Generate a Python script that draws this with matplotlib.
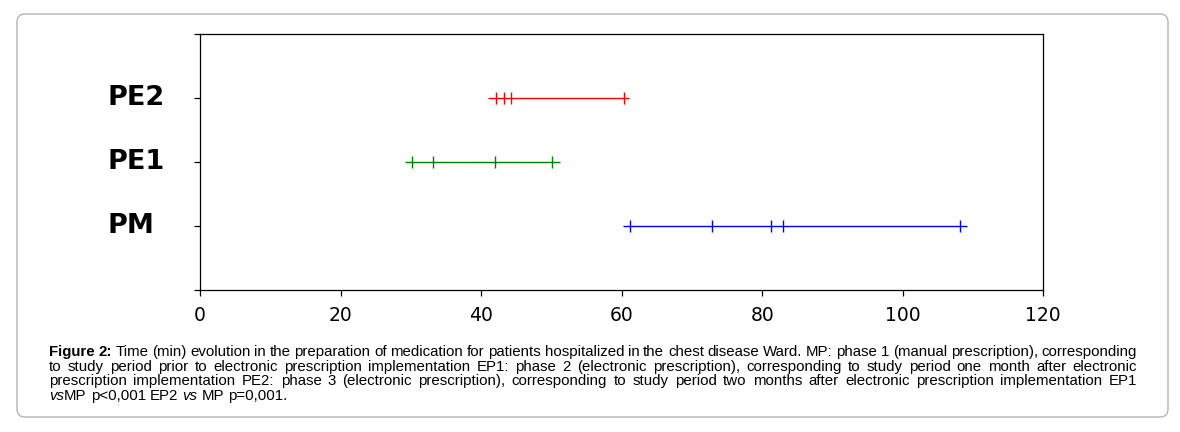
import matplotlib
matplotlib.use('Agg')
import matplotlib.pyplot as plt
from matplotlib.patches import FancyBboxPatch

# reading values off the figure (minutes)
groups = ['PM', 'PE1', 'PE2']
group_pos = [1, 2, 3]
pm_ends = [60.2, 109.1]
pm_marks = [61.2, 72.9, 81.2, 83.0, 108.2]
pe1_ends = [29.2, 51.2]
pe1_marks = [30.1, 33.2, 42.0, 50.1]
pe2_ends = [41.0, 61.1]
pe2_marks = [42.1, 43.2, 44.2, 60.3]
x_ticks = [0, 20, 40, 60, 80, 100, 120]

colors = ['#0000ff', '#008000', '#ff0000']

W, H = 1180, 432
fig = plt.figure(figsize=(W / 100, H / 100), dpi=100)

# rounded frame around figure + caption
frame = FancyBboxPatch((17 / 100, (H - 417) / 100), (1168 - 17) / 100, (417 - 14) / 100,
                       boxstyle='round,pad=0,rounding_size=0.08',
                       transform=fig.dpi_scale_trans, facecolor='none',
                       edgecolor='#b4b4b4', linewidth=1.0, zorder=-1)
fig.patches.append(frame)

ax = fig.add_axes([200 / W, 1 - 290.3 / H, (1043.3 - 200) / W, (290.3 - 34.3) / H])
ax.patch.set_alpha(0)

all_ends = [pm_ends, pe1_ends, pe2_ends]
all_marks = [pm_marks, pe1_marks, pe2_marks]
for y, ends, marks, c in zip(group_pos, all_ends, all_marks, colors):
    ax.plot(ends, [y, y], color=c, linewidth=1.0, solid_capstyle='butt')
    ax.plot(marks, [y] * len(marks), linestyle='none', marker='|', color=c,
            markersize=8, markeredgewidth=1.0)

ax.set_xlim(0, 120)
ax.set_ylim(0, 4)
ax.set_xticks(x_ticks)
ax.set_xticklabels([str(t) for t in x_ticks], fontsize=13.5, family='DejaVu Sans')
ax.set_yticks([0, 1, 2, 3, 4])
ax.set_yticklabels([''] + groups + [''], fontsize=19.5, fontweight='bold', family='DejaVu Sans')
for lab in ax.get_yticklabels():
    lab.set_horizontalalignment('left')
    lab.set_verticalalignment('center')

for s in ax.spines.values():
    s.set_linewidth(0.9)
ax.tick_params(axis='x', length=4.2, width=0.9, pad=7)
ax.tick_params(axis='y', length=4.2, width=0.9, pad=62.6)

# caption, justified like the journal layout
cap_font = ['Liberation Sans', 'DejaVu Sans']
cap_size = 10.8
N, B, I = 'normal', 'bold', 'italic'
cap_lines = [
    [[('Figure', B)], [('2:', B)]] + [[(w, N)] for w in
     'Time (min) evolution in the preparation of medication for patients hospitalized in the chest disease Ward. MP: phase 1 (manual prescription), corresponding'.split()],
    [[(w, N)] for w in
     'to study period prior to electronic prescription implementation EP1: phase 2 (electronic prescription), corresponding to study period one month after electronic'.split()],
    [[(w, N)] for w in
     'prescription implementation PE2: phase 3 (electronic prescription), corresponding to study period two months after electronic prescription implementation EP1'.split()],
    [[('vs', I), ('MP', N)], [('p<0,001', N)], [('EP2', N)], [('vs', I)], [('MP', N)], [('p=0,001.', N)]],
]
x_left, x_right = 49, 1137
baselines = [356, 370.7, 385.3, 400]

renderer = fig.canvas.get_renderer()


def make_piece(x, y, s, st):
    kw = dict(fontsize=cap_size, family=cap_font, va='baseline', ha='left',
              transform=None)
    if st == B:
        kw['fontweight'] = 'bold'
    if st == I:
        kw['fontstyle'] = 'italic'
    return fig.text(x, y, s, **kw)


def width_of(t):
    return t.get_window_extent(renderer).width


sp = fig.text(0, 0, 'a a', fontsize=cap_size, family=cap_font, transform=None)
sp2 = fig.text(0, 0, 'aa', fontsize=cap_size, family=cap_font, transform=None)
space_w = width_of(sp) - width_of(sp2)
sp.remove()
sp2.remove()

for li, (words, base) in enumerate(zip(cap_lines, baselines)):
    ypix = H - base
    word_texts = []
    word_w = []
    for word in words:
        pieces = []
        for s, st in word:
            pieces.append(make_piece(0, ypix, s, st))
        word_texts.append(pieces)
        word_w.append(sum(width_of(p) for p in pieces))
    if li < len(cap_lines) - 1:
        gap = (x_right - x_left - sum(word_w)) / (len(words) - 1)
    else:
        gap = space_w
    x = x_left
    for pieces, ww in zip(word_texts, word_w):
        xx = x
        for p in pieces:
            p.set_x(xx)
            xx += width_of(p)
        x += ww + gap

fig.savefig('out.png', dpi=100)
